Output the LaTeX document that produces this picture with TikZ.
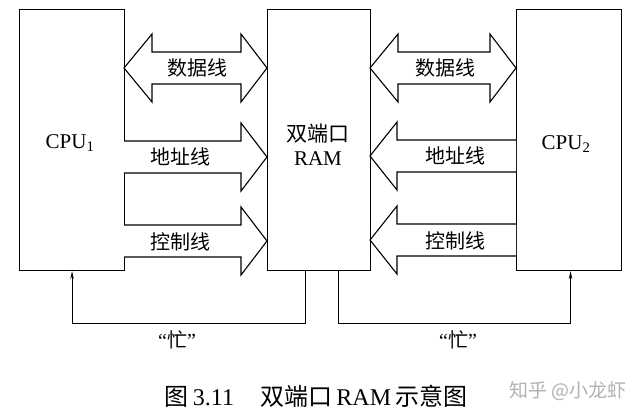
\documentclass[tikz,border=0pt]{standalone}
\usepackage{fontspec}
\setmainfont{Liberation Serif}
\newfontfamily\cjk{Noto Sans CJK SC}
\usetikzlibrary{arrows.meta,calc}
\tikzset{
  box/.style={draw,line width=1.1pt,inner sep=0pt,minimum width=105pt,minimum height=261pt,anchor=north west},
  rambox/.style={draw,line width=1.1pt,inner sep=0pt,minimum width=103pt,minimum height=261pt,anchor=north west},
  blk/.style={draw,line width=1.1pt,line join=miter,fill=white},
  lbl/.style={font=\fontsize{20}{24}\selectfont\cjk,inner sep=0pt},
  txt/.style={font=\fontsize{21}{26}\selectfont,inner sep=0pt,align=center},
  busy/.style={draw,line width=1.1pt,-{Stealth[length=8pt,width=3.5pt]}}
}
% double arrow: x1 (left tip), x2 (right tip), yc
\newcommand{\dblarr}[3]{%
  \draw[blk] (#1,#3) -- ({#1+28},{#3-34}) -- ({#1+28},{#3-16}) -- ({#2-26},{#3-16}) -- ({#2-26},{#3-34}) -- (#2,#3)
    -- ({#2-26},{#3+34}) -- ({#2-26},{#3+16}) -- ({#1+28},{#3+16}) -- ({#1+28},{#3+34}) -- cycle;}
% right arrow: x1 (shaft start), x2 (tip), yc
\newcommand{\rarr}[3]{%
  \draw[blk] (#1,{#3-16}) -- ({#2-26},{#3-16}) -- ({#2-26},{#3-34}) -- (#2,#3) -- ({#2-26},{#3+34}) -- ({#2-26},{#3+16}) -- (#1,{#3+16});}
% left arrow: x1 (tip), x2 (shaft start), yc
\newcommand{\larr}[3]{%
  \draw[blk] (#2,{#3-16}) -- ({#1+27},{#3-16}) -- ({#1+27},{#3-34}) -- (#1,#3) -- ({#1+27},{#3+34}) -- ({#1+27},{#3+16}) -- (#2,{#3+16});}
\begin{document}
\begin{tikzpicture}[x=1pt,y=-1pt]
\useasboundingbox (0,0) rectangle (638,418);
\fill[white] (0,0) rectangle (638,418);

\node[box] (cpu1) at (19,9) {};
\node[rambox] (ram) at (267,9) {};
\node[box] (cpu2) at (516,9) {};

\node[txt] (t1) at (70,143) {CPU\textsubscript{1}};
\node[txt] (t2) at (318,145) {{\cjk 双端口}\\[-2pt]RAM};
\node[txt] (t3) at (566,144) {CPU\textsubscript{2}};

% left side arrows
\dblarr{124}{267}{68}
\rarr{124}{267}{157}
\rarr{124}{267}{241}
% right side arrows
\dblarr{370}{516}{68}
\larr{370}{516}{156}
\larr{370}{516}{240}

\node[lbl] (d1) at (197,68) {数据线};
\node[lbl] (a1) at (180,157) {地址线};
\node[lbl] (c1) at (180,242) {控制线};
\node[lbl] (d2) at (445,68) {数据线};
\node[lbl] (a2) at (455,156) {地址线};
\node[lbl] (c2) at (455,241) {控制线};

% busy lines
\draw[busy] ([xshift=-13.5pt]ram.south) -- ++(0,52) -| (cpu1.south);
\draw[busy] ([xshift=19.5pt]ram.south) -- ++(0,52) -| ([xshift=1.5pt]cpu2.south);

\node[inner sep=0pt,font=\fontsize{20}{24}\selectfont] (b1) at (177,340) {“{\cjk 忙}”};
\node[inner sep=0pt,font=\fontsize{20}{24}\selectfont] (b2) at (458,340) {“{\cjk 忙}”};

\node[inner sep=0pt,font=\fontsize{24}{28}\selectfont] (cap) at (316,396) {{\cjk 图}\,3.11\hspace{1.1em}{\cjk 双端口}\,RAM\,{\cjk 示意图}};
\node[inner sep=0pt,font=\fontsize{19}{22}\selectfont\cjk,text=black!30] (wm) at (568,391) {知乎 @小龙虾};
\end{tikzpicture}
\end{document}
